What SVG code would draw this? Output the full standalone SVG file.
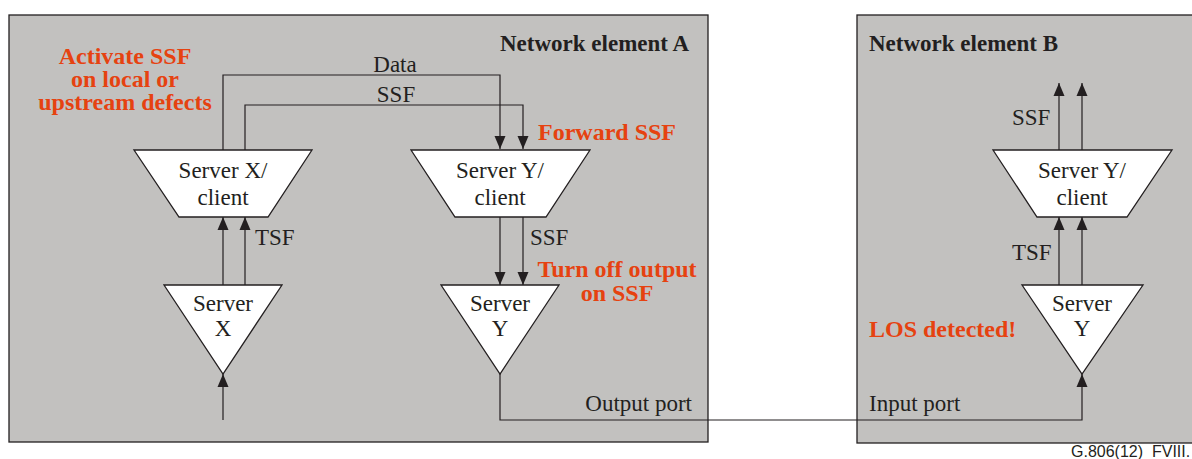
<svg xmlns="http://www.w3.org/2000/svg" width="1192" height="459" viewBox="0 0 1192 459">
<style>
.box{fill:#C2C1BF;stroke:#231F20;stroke-width:1.3}
.shape{fill:#FFFFFF;stroke:#231F20;stroke-width:1.3}
.ln{fill:none;stroke:#231F20;stroke-width:1.2}
.t{font-family:"Liberation Serif","Times New Roman",serif;font-size:23px;fill:#231F20}
.c{text-anchor:middle}
.b{font-family:"Liberation Serif","Times New Roman",serif;font-size:23px;font-weight:bold;fill:#231F20}
.r{font-family:"Liberation Serif","Times New Roman",serif;font-size:24px;font-weight:bold;fill:#E64210}
.foot{font-family:"Liberation Sans",Arial,sans-serif;font-size:16px;fill:#231F20}
</style>
<defs>
<marker id="ah" markerUnits="userSpaceOnUse" markerWidth="14" markerHeight="12" refX="13" refY="6" orient="auto">
<path d="M0,0.5 L13,6 L0,11.5 z" fill="#231F20"/>
</marker>
</defs>

<g id="neA">
<rect class="box" x="9" y="15" width="699" height="427"/>
<text class="b" x="500" y="51">Network element A</text>
</g>
<g id="neB">
<rect class="box" x="857" y="15" width="345" height="428"/>
<text class="b" x="869" y="51">Network element B</text>
</g>

<g id="connectors">
<path class="ln" d="M223,150 V75 H500 V149" marker-end="url(#ah)"/>
<path class="ln" d="M245,150 V105 H523 V149" marker-end="url(#ah)"/>
<path class="ln" d="M223,285 V217" marker-end="url(#ah)"/>
<path class="ln" d="M245,285 V217" marker-end="url(#ah)"/>
<path class="ln" d="M223,420 V374" marker-end="url(#ah)"/>
<path class="ln" d="M500,217 V285" marker-end="url(#ah)"/>
<path class="ln" d="M523,217 V285" marker-end="url(#ah)"/>
<path class="ln" d="M500,374 V420 H1082 V374" marker-end="url(#ah)"/>
<path class="ln" d="M1059,285 V217" marker-end="url(#ah)"/>
<path class="ln" d="M1082,285 V217" marker-end="url(#ah)"/>
<path class="ln" d="M1059,150 V83" marker-end="url(#ah)"/>
<path class="ln" d="M1082,150 V83" marker-end="url(#ah)"/>
<text class="t c" x="395" y="72">Data</text>
<text class="t c" x="396" y="102">SSF</text>
<text class="t" x="255" y="245">TSF</text>
<text class="t" x="530" y="245">SSF</text>
<text class="t" x="1012" y="125">SSF</text>
<text class="t" x="1012" y="260">TSF</text>
<text class="t" x="692" y="411" text-anchor="end">Output port</text>
<text class="t" x="869" y="411">Input port</text>
</g>

<g id="serverXclient">
<polygon class="shape" points="134,150 312,150 268,217 179,217"/>
<text class="t c" x="223" y="178">Server X/</text>
<text class="t c" x="223" y="205">client</text>
</g>
<g id="serverX">
<polygon class="shape" points="164,285 282,285 223,374"/>
<text class="t c" x="223" y="311">Server</text>
<text class="t c" x="223" y="336">X</text>
</g>
<g id="serverYclientA">
<polygon class="shape" points="411,150 590,150 546,217 455,217"/>
<text class="t c" x="500" y="178">Server Y/</text>
<text class="t c" x="500" y="205">client</text>
</g>
<g id="serverYA">
<polygon class="shape" points="441,285 559,285 500,374"/>
<text class="t c" x="500" y="311">Server</text>
<text class="t c" x="500" y="336">Y</text>
</g>
<g id="serverYclientB">
<polygon class="shape" points="993,150 1172,150 1127,217 1037,217"/>
<text class="t c" x="1082" y="178">Server Y/</text>
<text class="t c" x="1082" y="205">client</text>
</g>
<g id="serverYB">
<polygon class="shape" points="1022,285 1143,285 1082,374"/>
<text class="t c" x="1082" y="311">Server</text>
<text class="t c" x="1082" y="336">Y</text>
</g>

<g id="annotations">
<text class="r c" x="125" y="64">Activate SSF</text>
<text class="r c" x="125" y="87">on local or</text>
<text class="r c" x="125" y="110">upstream defects</text>
<text class="r" x="538" y="140">Forward SSF</text>
<text class="r c" x="617" y="277">Turn off output</text>
<text class="r c" x="617" y="301">on SSF</text>
<text class="r" x="869" y="337">LOS detected!</text>
</g>
<text class="foot" x="1071" y="457">G.806(12)_FVIII.</text>
</svg>
